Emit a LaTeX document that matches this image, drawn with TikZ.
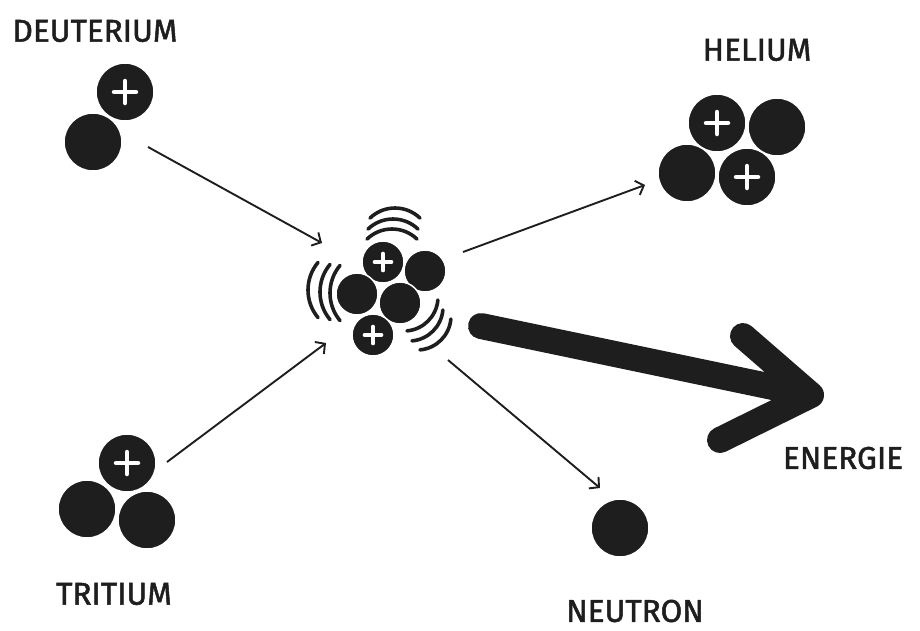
\documentclass[tikz,border=0pt]{standalone}
\usepackage{fontspec}
\setmainfont{Fira Sans}
\newfontfamily\handfont{Fira Sans}[FakeBold=1.6]
\usetikzlibrary{arrows.meta}
\definecolor{ink}{HTML}{1E1E1E}
\begin{document}
\begin{tikzpicture}[x=1pt,y=1pt,
  plus arm/.initial=11pt,
  plus width/.initial=4.5pt,
  particle/.style={circle, fill=ink, draw=white, line width=1.5pt, inner sep=0pt, minimum size=58pt},
  small/.style={minimum size=42pt, plus arm=8.5pt, plus width=3.6pt},
  neutron/.style={particle},
  proton/.style={particle, path picture={
      \coordinate (pc) at (path picture bounding box.center);
      \draw[white, line width=\pgfkeysvalueof{/tikz/plus width}, line cap=round]
        ([xshift=-\pgfkeysvalueof{/tikz/plus arm}]pc) -- ([xshift=\pgfkeysvalueof{/tikz/plus arm}]pc)
        ([yshift=-\pgfkeysvalueof{/tikz/plus arm}]pc) -- ([yshift=\pgfkeysvalueof{/tikz/plus arm}]pc);}},
  lbl/.style={font=\handfont\fontsize{31.5}{31.5}\selectfont, text=ink, inner sep=0pt},
  flow/.style={draw=ink, line width=1.9pt, -{Straight Barb[length=7pt,width=15pt,line width=1.9pt]}},
  energy/.style={draw=ink, line width=26pt, line cap=round, line join=round},
  wave/.style={draw=ink, line width=3.6pt, line cap=round}
]
\useasboundingbox (0,0) rectangle (920,-630);

% labels
\node[lbl] (tDeut) at (95,-31) {DEUTERIUM};
\node[lbl] (tHel) at (757,-50) {HELIUM};
\node[lbl] (tTri) at (114,-594) {TRITIUM};
\node[lbl] (tNeu) at (635,-611) {NEUTRON};
\node[lbl] (tEn) at (843,-458) {ENERGIE};

% deuterium
\node[neutron] (dn) at (93,-142) {};
\node[proton] (dp) at (125,-92) {};

% helium
\node[proton] (hp1) at (717,-123) {};
\node[neutron] (hn1) at (777,-127) {};
\node[neutron] (hn2) at (687,-173) {};
\node[proton] (hp2) at (747,-177) {};

% tritium
\node[proton] (tp) at (127,-463) {};
\node[neutron] (tn1) at (87,-509) {};
\node[neutron] (tn2) at (147,-520) {};

% free neutron
\node[neutron] (nn) at (620,-528) {};

% fusing cluster
\node[proton,small] (cp1) at (383,-262) {};
\node[neutron,small] (cn1) at (425,-271) {};
\node[neutron,small] (cn2) at (357,-294) {};
\node[neutron,small] (cn3) at (400,-303) {};
\node[proton,small] (cp2) at (373,-335) {};

% vibration marks around the cluster
\foreach \cx/\cy in {395/244, 393/255, 392/265}
  \draw[wave] (\cx,-\cy) ++(134:36pt) arc[start angle=134, end angle=46, radius=36pt];
\foreach \cx/\cy in {351/290, 363/292, 373/293}
  \draw[wave] (\cx,-\cy) ++(140:43pt) arc[start angle=140, end angle=220, radius=43pt];
\foreach \cx/\cy in {404/297, 409/307, 417/316}
  \draw[wave] (\cx,-\cy) ++(-5:34pt) arc[start angle=-5, end angle=-85, radius=34pt];

% connector ends
\coordinate (dOut) at (148,-147);
\coordinate (cInD) at (322,-243);
\coordinate (tOut) at (167,-462);
\coordinate (cInT) at (326,-343);
\coordinate (cOutH) at (463,-252);
\coordinate (hIn) at (645,-185);
\coordinate (cOutN) at (448,-360);
\coordinate (nIn) at (600,-488);

\draw[flow] (dOut) -- (cInD);
\draw[flow] (tOut) -- (cInT);
\draw[flow] (cOutH) -- (hIn);
\draw[flow] (cOutN) -- (nIn);

% energy arrow
\coordinate (eStart) at (481,-326);
\coordinate (eTip) at (811,-395);
\coordinate (eUp) at (743,-336);
\coordinate (eLow) at (720,-440);
\draw[energy] (eStart) -- (eTip) (eUp) -- (eTip) -- (eLow);
\end{tikzpicture}
\end{document}
